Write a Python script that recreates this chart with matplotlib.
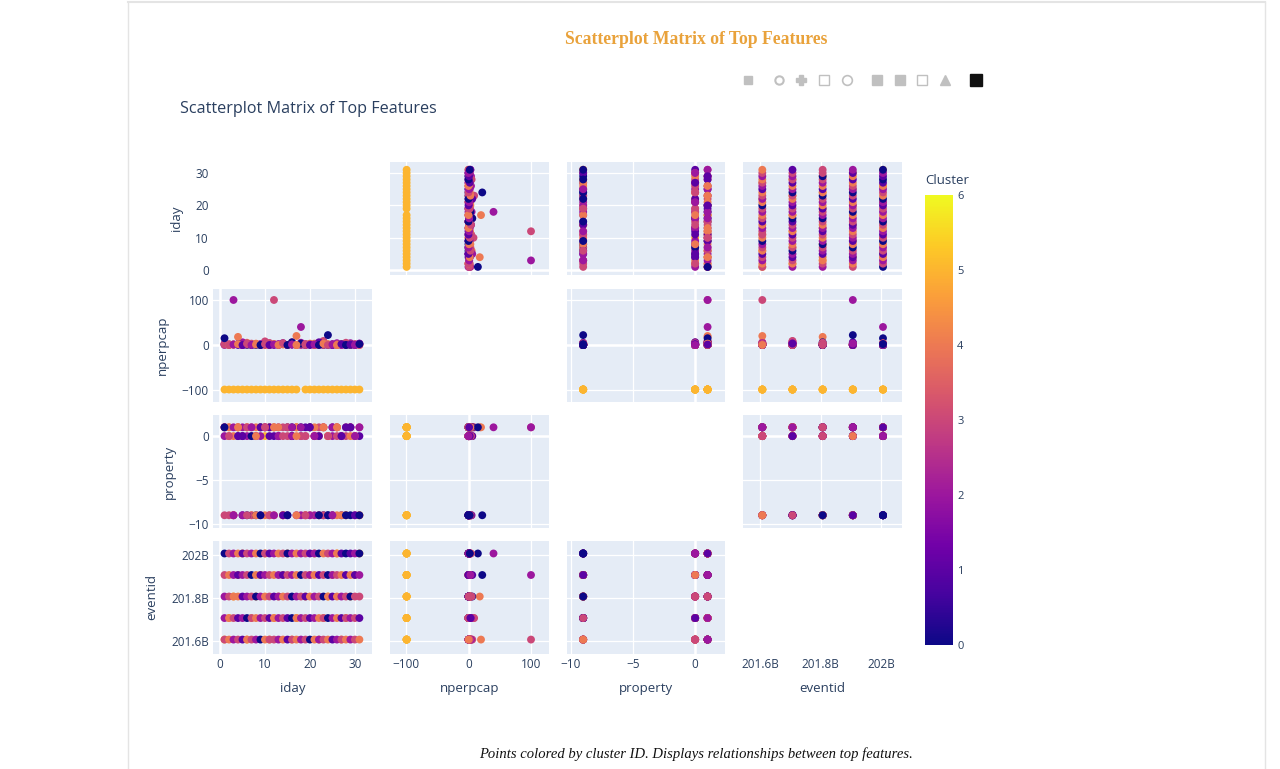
import matplotlib
matplotlib.use("Agg")
import matplotlib.pyplot as plt
from matplotlib.colors import LinearSegmentedColormap, Normalize
from matplotlib.cm import ScalarMappable
from matplotlib.ticker import FuncFormatter

plt.rcParams['font.family'] = ['Open Sans', 'DejaVu Sans']

# ---- data ----
days = [1, 2, 3, 4, 5, 6, 7, 8, 9, 10, 11, 12, 13, 14, 15, 16,
        17, 18, 19, 20, 21, 22, 23, 24, 25, 26, 27, 28, 29, 30, 31]

prop_2016 = [1, 0, -9, 1, 0, 1, -9, 0, 1, -9, 1, 1, 0, -9, 1, 0,
             1, 0, -9, 1, 0, -9, 1, 0, -9, 1, 0, -9, 1, 0, -9]
clus_2016 = [3, 4, 2, 3, 1, 4, 3, 2, 0, 4, 3, 3, 2, 4, 1, 3,
             4, 2, 3, 0, 4, 2, 3, 4, 1, 2, 3, 4, 2, 3, 4]
npc_2016 = [3, 0, 1, 2, 0, 5, 0, 2, 1, 0, 4, 100, 1, 3, 0, 6,
            20, 0, 2, 1, 3, 0, 2, 1, 0, 4, 0, 1, 0, 2, 0]

prop_2017 = [0, 1, -9, 0, 1, -9, 0, 1, -9, 1, 1, -9, 0, 1, -9, 0,
             1, -9, 0, 1, -9, 0, 1, -9, 0, 1, -9, 0, 1, -9, 0]
clus_2017 = [2, 4, 3, 1, 2, 0, 3, 4, 2, 3, 1, 4, 2, 3, 1, 0,
             4, 2, 3, 1, 2, 4, 3, 0, 2, 4, 1, 3, 2, 3, 1]
npc_2017 = [2, 0, 1, 0, 6, 0, 3, 1, 0, 8, 0, 2, 0, 3, 0, 1,
            0, 5, 0, 2, 0, 1, 9, 0, 2, 0, 1, 0, 4, 0, 3]

prop_2018 = [1, -9, 0, 1, -9, 0, 1, -9, 0, 1, -9, 0, 1, -9, 0, 1,
             -9, 0, 1, -9, 0, 1, -9, 0, 1, -9, 0, 1, -9, 0, 1]
clus_2018 = [2, 3, 4, 4, 1, 2, 3, 0, 2, 4, 3, 1, 2, 4, 3, 0,
             2, 3, 1, 4, 2, 3, 0, 4, 1, 4, 2, 3, 0, 3, 3]
npc_2018 = [0, 2, 1, 18, 0, 3, 1, 0, 2, 0, 4, 0, 2, 1, 0, 6,
            0, 1, 0, 3, 0, 1, 0, 2, 0, 1, 0, 5, 0, 1, 0]

prop_2019 = [-9, 1, 1, 0, -9, 1, 0, -9, 1, 1, -9, 1, 0, -9, 1, 0,
             -9, 1, 0, -9, 1, 0, -9, -9, 1, 0, -9, 1, 0, -9, 1]
clus_2019 = [3, 4, 2, 1, 2, 3, 0, 4, 1, 2, 3, 4, 2, 1, 3, 2,
             4, 0, 3, 2, 4, 1, 3, 0, 2, 3, 4, 1, 4, 1, 2]
npc_2019 = [1, 0, 100, 2, 0, 1, 0, 3, 0, 1, 0, 2, 0, 4, 0, 1,
            0, 3, 0, 1, 0, 6, 0, 22, 1, 0, 2, 0, 1, 0, 3]

prop_2020 = [1, 0, -9, 1, 0, -9, 1, 0, -9, 1, 0, -9, 1, 0, -9, 1,
             0, 1, -9, 1, 0, -9, 1, 0, -9, 1, 0, -9, 1, 0, -9]
clus_2020 = [0, 3, 2, 4, 1, 3, 2, 4, 0, 3, 1, 2, 4, 3, 0, 2,
             4, 2, 3, 1, 2, 0, 4, 3, 2, 4, 1, 0, 1, 2, 0]
npc_2020 = [15, 0, 1, 2, 0, 3, 0, 1, 0, 2, 0, 1, 0, 4, 0, 1,
            0, 40, 2, 0, 1, 0, 3, 0, 1, 0, 2, 0, 1, 0, 2]

# cluster 5: nperpcap recorded as -99
gold_days = [1, 2, 3, 4, 5, 6, 7, 8, 9, 10, 11, 12, 13, 14, 15,
             16, 17, 19, 20, 21, 22, 23, 24, 25, 26, 27, 28, 29, 30, 31]
gold_years = [2016, 2017, 2018, 2019, 2020, 2016, 2017, 2018, 2019, 2020,
              2016, 2017, 2018, 2019, 2020, 2016, 2017, 2018, 2019, 2020,
              2016, 2017, 2018, 2019, 2020, 2016, 2017, 2018, 2019, 2020]
gold_prop = [1, 0, -9, 1, 0, 1, -9, 0, 1, 0, 1, 1, 0, -9, 1,
             0, 1, -9, 1, 0, -9, 1, 0, -9, 1, 0, -9, 1, 0, -9]

year_eventid = {2016: 201607000000, 2017: 201707000000, 2018: 201807000000,
                2019: 201907000000, 2020: 202007000000}

years = [2016, 2017, 2018, 2019, 2020]
props = [prop_2016, prop_2017, prop_2018, prop_2019, prop_2020]
clus = [clus_2016, clus_2017, clus_2018, clus_2019, clus_2020]
npcs = [npc_2016, npc_2017, npc_2018, npc_2019, npc_2020]

# assemble the table (gold rows first, then each year)
iday = list(gold_days)
nperpcap = [-99] * len(gold_days)
prop = list(gold_prop)
eventid = [year_eventid[y] for y in gold_years]
cluster = [5] * len(gold_days)
for y, p, c, n in zip(years, props, clus, npcs):
    iday += days
    prop += p
    cluster += c
    nperpcap += n
    eventid += [year_eventid[y]] * len(days)

cols = {"iday": iday, "nperpcap": nperpcap, "property": prop, "eventid": eventid}
feats = ["iday", "nperpcap", "property", "eventid"]

# ---- styling ----
W, H = 1280, 769
def box(l, t, r, b):
    return [l / W, 1 - b / H, (r - l) / W, (b - t) / H]

plasma = ["#0d0887", "#46039f", "#7201a8", "#9c179e", "#bd3786",
          "#d8576b", "#ed7953", "#fb9f3a", "#fdca26", "#f0f921"]
cmap = LinearSegmentedColormap.from_list("plotly_plasma", plasma)
txt = "#2a3f5f"

col_px = [(213, 372), (390, 549), (567, 725), (743, 902)]
row_px = [(162, 275), (289, 402), (415, 528), (541, 654)]
xlims = {"iday": (-1.56, 33.8), "nperpcap": (-125.6, 128.8),
         "property": (-10.3, 2.4), "eventid": (201.543e9, 202.07e9)}
ylims = {"iday": (-1.5, 33.4), "nperpcap": (-126.7, 124.4),
         "property": (-10.45, 2.4), "eventid": (201.54e9, 202.065e9)}
ticks = {"iday": [0, 10, 20, 30], "nperpcap": [-100, 0, 100],
         "property": [-10, -5, 0], "eventid": [201.6e9, 201.8e9, 202.0e9]}
has_zero = {"iday", "nperpcap", "property"}
bill = FuncFormatter(lambda v, p: f"{v / 1e9:g}B")

fig = plt.figure(figsize=(12.8, 7.69), dpi=100)

# page frame, headings, modebar
over = fig.add_axes([0, 0, 1, 1])
over.set_xlim(0, W)
over.set_ylim(H, 0)
over.axis("off")
over.plot([128, 128], [2, H], color="#e4e4e4", lw=1)
over.plot([1265, 1265], [2, H], color="#e4e4e4", lw=1)
over.plot([128, 1265], [2, 2], color="#e4e4e4", lw=1.5)
over.text(696, 40, "Scatterplot Matrix of Top Features", ha="center", va="center",
          family=["Liberation Serif", "DejaVu Serif"], weight="bold", size=12.7, color="#e9a23b")
over.text(180, 109, "Scatterplot Matrix of Top Features", ha="left", va="center",
          size=11.6, color=txt)
over.text(696, 754, "Points colored by cluster ID. Displays relationships between top features.",
          ha="center", va="center", family=["Liberation Serif", "DejaVu Serif"],
          style="italic", size=10.5, color="#111111")
icon_gray = "#c0c0c0"
over.plot(748, 80, marker="s", ms=6, color=icon_gray)
over.plot(779, 80, marker="o", ms=6, mfc="none", mec=icon_gray, mew=1.5)
over.plot(801, 80, marker="P", ms=7, color=icon_gray)
over.plot(824, 80, marker="s", ms=7, mfc="none", mec=icon_gray, mew=1, ls="none")
over.plot(847, 80, marker="o", ms=7, mfc="none", mec=icon_gray, mew=1.2)
over.plot(877, 80, marker="s", ms=7, color=icon_gray)
over.plot(900, 80, marker="s", ms=7, color=icon_gray)
over.plot(922, 80, marker="s", ms=7, mfc="none", mec=icon_gray, mew=1)
over.plot(945, 80, marker="^", ms=7, color=icon_gray)
over.plot(976, 80, marker="s", ms=9, color="#111111")

for i, fy in enumerate(feats):
    for j, fx in enumerate(feats):
        ax = fig.add_axes(box(col_px[j][0], row_px[i][0], col_px[j][1], row_px[i][1]))
        ax.set_xlim(xlims[fx])
        ax.set_ylim(ylims[fy])
        ax.set_xticks(ticks[fx])
        ax.set_yticks(ticks[fy])
        if fx == "eventid":
            ax.xaxis.set_major_formatter(bill)
        if fy == "eventid":
            ax.yaxis.set_major_formatter(bill)
        ax.tick_params(length=0, labelsize=8.5, labelcolor=txt, pad=3)
        for s in ax.spines.values():
            s.set_visible(False)
        if i == j:
            ax.set_facecolor("none")
        else:
            ax.set_facecolor("#E5ECF6")
            ax.set_axisbelow(True)
            ax.grid(True, color="white", lw=0.9)
            if fx in has_zero:
                ax.axvline(0, color="white", lw=1.8, zorder=1)
            if fy in has_zero:
                ax.axhline(0, color="white", lw=1.8, zorder=1)
            ax.scatter(cols[fx], cols[fy], c=cluster, cmap=cmap, vmin=0, vmax=6,
                       s=32, linewidths=0, zorder=3)
        if j == 0:
            ax.set_ylabel(fy, size=9.5, color=txt, labelpad=9)
        else:
            ax.tick_params(labelleft=False)
        if i == 3:
            ax.set_xlabel(fx, size=9.5, color=txt, labelpad=8)
        else:
            ax.tick_params(labelbottom=False)

cax = fig.add_axes(box(925, 195, 953, 645))
cb = fig.colorbar(ScalarMappable(Normalize(0, 6), cmap), cax=cax, ticks=[0, 1, 2, 3, 4, 5, 6])
cb.outline.set_visible(False)
cax.tick_params(length=0, pad=3, labelsize=8, labelcolor=txt)
over.text(925, 180, "Cluster", ha="left", va="center", size=9.5, color=txt)

fig.savefig("out.png", dpi=100)
